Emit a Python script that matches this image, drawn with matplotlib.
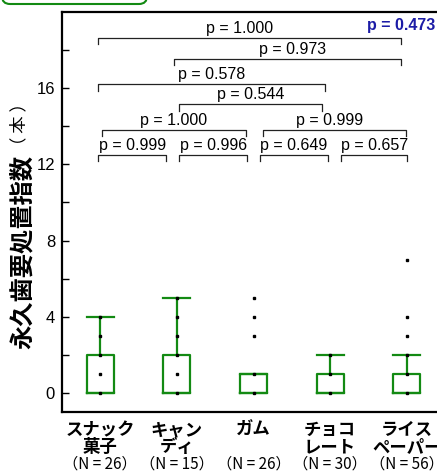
import matplotlib
matplotlib.use('Agg')
import matplotlib.pyplot as plt
from matplotlib.patches import FancyBboxPatch
from matplotlib.transforms import IdentityTransform, blended_transform_factory

# 食品群ごとの永久歯要処置指数
categories = ["スナック\n菓子", "キャン\nディ", "ガム", "チョコ\nレート", "ライス\nペーパー"]
n_counts = [26, 15, 26, 30, 56]
box_low = [0, 0, 0, 0, 0]
box_high = [2, 2, 1, 1, 1]
whisker_high = [4, 5, 1, 2, 2]
point_values = [
    [0, 1, 2, 3, 4],
    [0, 1, 2, 3, 4, 5],
    [0, 1, 3, 4, 5],
    [0, 1, 2],
    [0, 1, 2, 3, 4, 7],
]

# 多重比較（群番号の組, 高さ, p値）
pairs = [(1, 5), (2, 5), (1, 4), (2, 4), (1, 3), (3, 5), (1, 2), (2, 3), (3, 4), (4, 5)]
pair_levels = [18.65, 17.55, 16.2, 15.15, 13.8, 13.8, 12.5, 12.5, 12.5, 12.5]
pair_p = ["1.000", "0.973", "0.578", "0.544", "1.000", "0.999", "0.999", "0.996", "0.649", "0.657"]
pair_ends = [(-0.03, -0.07), (-0.04, -0.07), (-0.03, -0.07), (0.03, -0.11), (0.02, -0.10),
             (0.12, -0.01), (-0.03, -0.14), (0.03, -0.08), (0.08, -0.03), (0.14, 0.01)]
label_shift = [-0.13, 0.06, 0, 0, 0, -0.06, 0, 0, 0, 0]
overall_p = "0.473"

green = '#138a13'
jp = ['Noto Sans CJK JP', 'DejaVu Sans']
latin = 'Liberation Sans'

fig = plt.figure(figsize=(4.37, 4.72), dpi=100)
ax = fig.add_axes([62 / 437, 60 / 472, 383 / 437, 400 / 472])

x = list(range(1, len(categories) + 1))
stats = [dict(med=lo, q1=lo, q3=hi, whislo=lo, whishi=wh, fliers=[])
         for lo, hi, wh in zip(box_low, box_high, whisker_high)]
line = dict(color=green, linewidth=1.6)
ax.bxp(stats, positions=x, widths=0.35, capwidths=0.35, showfliers=False,
       boxprops=line, whiskerprops=line, capprops=line,
       medianprops=dict(visible=False))

for xi, pts in zip(x, point_values):
    ax.plot([xi] * len(pts), pts, 's', color='black', ms=1.7, zorder=4)

# 比較ブラケット
drop = 0.33
for (a, b), lvl, p, (dl, dr), sh in zip(pairs, pair_levels, pair_p, pair_ends, label_shift):
    xl, xr = a + dl, b + dr
    ax.plot([xl, xl, xr, xr], [lvl - drop, lvl, lvl, lvl - drop], color='#222222', lw=0.9)
    ax.text((xl + xr) / 2 + sh, lvl + 0.27, f"p = {p}", ha='center', va='baseline',
            fontsize=11.5, family=latin)

ax.text(5.37, 19.05, f"p = {overall_p}", ha='right', va='baseline', fontsize=11.5,
        family=latin, weight='bold', color='#1c1ca6')

ax.set_xlim(0.5, 5.5)
ax.set_ylim(-1, 20)
ax.set_yticks([0, 4, 8, 12, 16])
ax.set_yticks([2, 6, 10, 14, 18], minor=True)
ax.set_xticks([])
ax.tick_params(axis='y', which='both', direction='in', length=5, width=1, labelsize=12, pad=5)
for lab in ax.get_yticklabels():
    lab.set_family(latin)
for side in ['left', 'top', 'bottom']:
    ax.spines[side].set_linewidth(1.6)
ax.spines['right'].set_visible(False)

# 群名とN
trans = blended_transform_factory(ax.transData, ax.transAxes)
for xi, cat, n in zip(x, categories, n_counts):
    for k, part in enumerate(cat.split('\n')):
        ax.text(xi, -0.045 - 0.0425 * k, part, transform=trans, ha='center', va='center',
                fontsize=12.5, weight='bold', family=jp)
    ax.text(xi, -0.13, f"（N = {n}）", transform=trans, ha='center', va='center',
            fontsize=11, family=jp)

fig.text(23 / 437, 1 - 155 / 472, "永久歯要処置指数", rotation=90, ha='center', va='top',
         fontsize=17.5, weight='bold', family=jp)
fig.text(19 / 437, 1 - 154 / 472, "（ 本 ）", rotation=90, ha='center', va='bottom',
         fontsize=12.5, family=jp)

tab = FancyBboxPatch((2, 468), 145, 40, boxstyle='round,pad=0,rounding_size=8',
                     transform=IdentityTransform(), ec=green, fc='white', lw=1.5)
fig.add_artist(tab)

fig.savefig('out.png', dpi=100)
